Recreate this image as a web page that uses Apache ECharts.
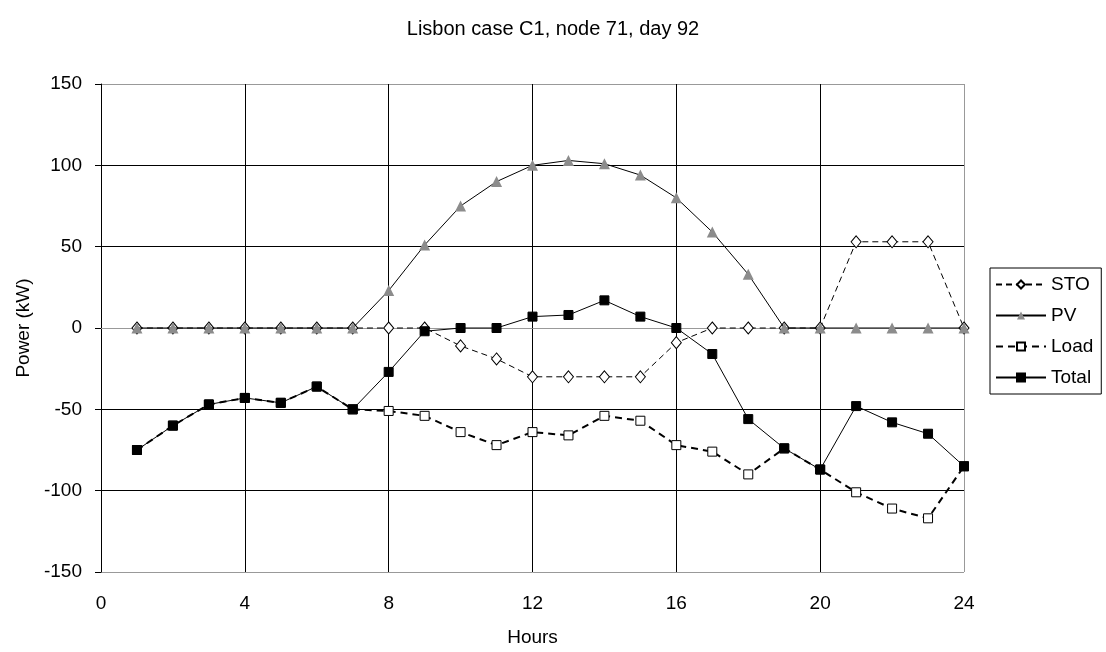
<!DOCTYPE html>
<html>
<head>
<meta charset="utf-8">
<title>Lisbon case C1, node 71, day 92</title>
<script src="https://cdn.jsdelivr.net/npm/echarts@6/dist/echarts.min.js"></script>
<style>
  html, body { margin: 0; padding: 0; background: #fff; }
  #chart { width: 1106px; height: 652px; }
</style>
</head>
<body>
<div id="chart"></div>
<script>
// Hourly power balance at one node (kW)
const hours = [1, 2, 3, 4, 5, 6, 7, 8, 9, 10, 11, 12, 13, 14, 15, 16, 17, 18, 19, 20, 21, 22, 23, 24];
const sto   = [0, 0, 0, 0, 0, 0, 0, 0, 0, -11, -19, -30, -30, -30, -30, -9, 0, 0, 0, 0, 53, 53, 53, 0];
const pv    = [0, 0, 0, 0, 0, 0, 0, 23, 51, 75, 90, 100, 103, 101, 94, 80, 59, 33, 0, 0, 0, 0, 0, 0];
const load  = [-75, -60, -47, -43, -46, -36, -50, -51, -54, -64, -72, -64, -66, -54, -57, -72, -76, -90, -74, -87, -101, -111, -117, -85];
const total = [-75, -60, -47, -43, -46, -36, -50, -27, -2, 0, 0, 7, 8, 17, 7, 0, -16, -56, -74, -87, -48, -58, -65, -85];

const xTicks = [0, 4, 8, 12, 16, 20, 24];
const yTicks = [-150, -100, -50, 0, 50, 100, 150];

const FONT = "'Liberation Sans', Arial, sans-serif";

function pairs(values) {
  return hours.map((h, i) => [h, values[i]]);
}

const chart = echarts.init(document.getElementById('chart'), null, { renderer: 'canvas' });

chart.setOption({
  animation: false,
  backgroundColor: '#fff',
  title: {
    text: 'Lisbon case C1, node 71, day 92',
    left: 'center',
    top: 14,
    textStyle: { fontFamily: FONT, fontSize: 20, fontWeight: 'normal', color: '#000' }
  },
  legend: {
    orient: 'vertical',
    left: 990,
    top: 268,
    padding: [7, 8, 7, 5],
    borderColor: '#000',
    borderWidth: 1,
    itemWidth: 50,
    itemHeight: 10,
    itemGap: 12,
    textStyle: { fontFamily: FONT, fontSize: 19, color: '#000' },
    data: ['STO', 'PV', 'Load', 'Total']
  },
  grid: { left: 101, right: 142, top: 84, bottom: 79 },
  xAxis: {
    type: 'value',
    min: xTicks[0],
    max: xTicks[xTicks.length - 1],
    interval: xTicks[1] - xTicks[0],
    name: 'Hours',
    nameLocation: 'middle',
    nameGap: 56,
    nameTextStyle: { fontFamily: FONT, fontSize: 19, color: '#000' },
    axisLine: { lineStyle: { color: '#999', width: 1 } },
    axisTick: { show: false },
    axisLabel: { margin: 22, fontFamily: FONT, fontSize: 19, color: '#000' },
    splitLine: {
      show: true,
      lineStyle: { color: ['#000', '#000', '#000', '#000', '#000', '#000', '#999'], width: 1 }
    }
  },
  yAxis: {
    type: 'value',
    min: yTicks[0],
    max: yTicks[yTicks.length - 1],
    interval: yTicks[1] - yTicks[0],
    name: 'Power (kW)',
    nameLocation: 'middle',
    nameGap: 68,
    nameTextStyle: { fontFamily: FONT, fontSize: 19, color: '#000' },
    axisLine: { show: true, lineStyle: { color: '#000', width: 1 } },
    axisTick: { show: true, length: 6, lineStyle: { color: '#000' } },
    axisLabel: { margin: 19, fontFamily: FONT, fontSize: 19, color: '#000' },
    splitLine: {
      show: true,
      lineStyle: { color: ['#999', '#000', '#000', '#000', '#000', '#000', '#999'], width: 1 }
    }
  },
  series: [
    {
      name: 'STO',
      type: 'line',
      data: pairs(sto),
      symbol: 'diamond',
      symbolSize: [10, 12],
      showAllSymbol: true,
      lineStyle: { color: '#000', width: 1, type: [6, 4] },
      itemStyle: { color: '#fff', borderColor: '#000', borderWidth: 1 },
      emphasis: { disabled: true },
      z: 2
    },
    {
      name: 'PV',
      type: 'line',
      data: pairs(pv),
      symbol: 'triangle',
      symbolSize: 11,
      showAllSymbol: true,
      lineStyle: { color: '#000', width: 1 },
      itemStyle: { color: '#8c8c8c', borderWidth: 0 },
      emphasis: { disabled: true },
      z: 3
    },
    {
      name: 'Load',
      type: 'line',
      data: pairs(load),
      symbol: 'rect',
      symbolSize: 9,
      showAllSymbol: true,
      lineStyle: { color: '#000', width: 2, type: [7, 5] },
      itemStyle: { color: '#fff', borderColor: '#000', borderWidth: 1 },
      emphasis: { disabled: true },
      z: 4
    },
    {
      name: 'Total',
      type: 'line',
      data: pairs(total),
      symbol: 'rect',
      symbolSize: 9,
      showAllSymbol: true,
      lineStyle: { color: '#000', width: 1 },
      itemStyle: { color: '#000', borderColor: '#000', borderWidth: 1 },
      emphasis: { disabled: true },
      z: 5
    }
  ]
});
</script>
</body>
</html>
